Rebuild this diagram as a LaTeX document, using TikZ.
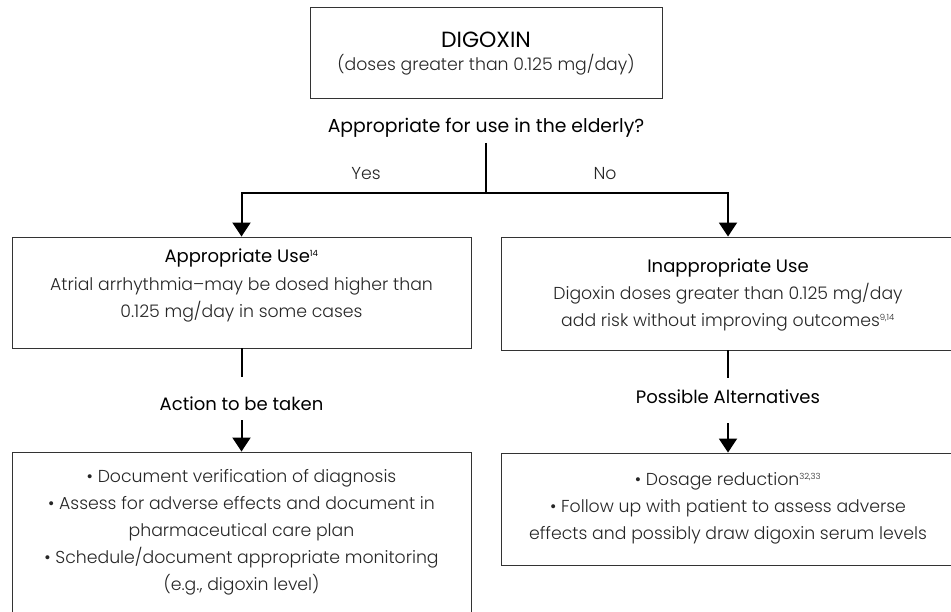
\documentclass[tikz,border=0pt]{standalone}
\usepackage{fontspec}
\setmainfont{Poppins}
\newfontfamily\lightfont{Poppins Light}
\usetikzlibrary{arrows.meta}
\begin{document}
\begin{tikzpicture}[x=1pt,y=-1pt,
  box/.style={draw=black!80,line width=0.9pt,inner sep=0pt},
  conn/.style={line width=2pt,line join=miter},
  arr/.style={conn,-{Triangle[width=18pt,length=14pt]}},
  head/.style={font=\fontsize{18}{18}\selectfont,text=black,inner sep=0pt},
  body/.style={font=\lightfont\fontsize{17.3}{27}\selectfont,text=black!85,align=center,inner sep=0pt},
]
\newcommand{\refmark}[1]{\textsuperscript{\fontsize{8.5}{8.5}\selectfont #1}}
\useasboundingbox (0,0) rectangle (951,612);

% boxes
\node[box,minimum width=352pt,minimum height=91pt] (top) at (486,52.5) {};
\node[box,minimum width=459pt,minimum height=111pt] (L) at (241.5,292.5) {};
\node[box,minimum width=454pt,minimum height=113pt] (R) at (728,293.5) {};
\node[box,minimum width=459pt,minimum height=190pt] (LL) at (241.5,547) {};
\node[box,minimum width=454pt,minimum height=112pt] (RR) at (728,509) {};

% texts
\node[head,font=\fontsize{22}{22}\selectfont] (t1) at (486,40) {DIGOXIN};
\node[body] (t2) at (486,65) {(doses greater than 0.125 mg/day)};
\node[head,font=\fontsize{18.8}{18.8}\selectfont] (q) at (486,128) {Appropriate for use in the elderly?};
\node[body] (yes) at (366,174) {Yes};
\node[body] (no) at (605,174) {No};

\node[head] (lh) at (241.5,258) {Appropriate Use\refmark{14}};
\node[body] (lt) at (241.5,299.5) {Atrial arrhythmia–may be dosed higher than\\0.125 mg/day in some cases};

\node[head] (rh) at (728,268) {Inappropriate Use};
\node[body] (rt) at (728,307) {Digoxin doses greater than 0.125 mg/day\\add risk without improving outcomes\refmark{9,14}};

\node[head] (act) at (241.5,404) {Action to be taken};
\node[head] (alt) at (728,397) {Possible Alternatives};

\node[body] (llt) at (241.5,532) {• Document verification of diagnosis\\
  • Assess for adverse effects and document in\\
  pharmaceutical care plan\\
  • Schedule/document appropriate monitoring\\
  (e.g., digoxin level)};
\node[body] (rrt) at (728,508.5) {• Dosage reduction\refmark{32,33}\\
  • Follow up with patient to assess adverse\\
  effects and possibly draw digoxin serum levels};

% connectors
\coordinate (split) at (486,193);
\coordinate (qb) at (486,143);
\coordinate (actTop) at (241.5,377);
\coordinate (actBot) at (241.5,420);
\coordinate (altTop) at (728,378);
\coordinate (altBot) at (728,423);

\draw[conn] (qb) -- (split);
\draw[arr] (split) -| (L.north);
\draw[arr] (split) -| (R.north);
\draw[conn] (L.south) -- (actTop);
\draw[arr] (actBot) -- (LL.north);
\draw[conn] (R.south) -- (altTop);
\draw[arr] (altBot) -- (RR.north);
\end{tikzpicture}
\end{document}
